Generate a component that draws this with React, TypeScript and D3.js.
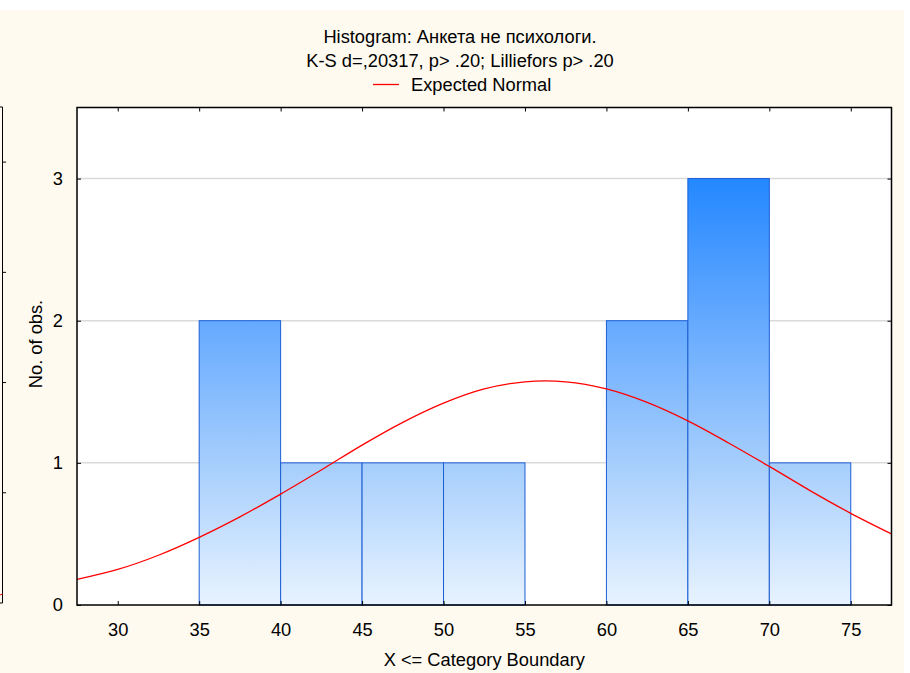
import { useEffect, useRef } from 'react';
import * as d3 from 'd3';

// histogram bins (lower boundary) and counts
const binStarts = [35, 40, 45, 50, 55, 60, 65, 70];
const binCounts = [2, 1, 1, 1, 0, 2, 3, 1];
const binWidth = 5;

const xTicks = [30, 35, 40, 45, 50, 55, 60, 65, 70, 75];
const yTicks = [0, 1, 2, 3];

// expected normal curve
const curveX = [27.5, 30, 32.5, 35, 37.5, 40, 42.5, 45, 47.5, 50, 52.5, 55, 57.5, 60, 62.5, 65, 67.5, 70, 72.5, 75, 77.5];
const curveY = [0.18, 0.25, 0.35, 0.476, 0.62, 0.78, 0.95, 1.125, 1.285, 1.42, 1.52, 1.57, 1.57, 1.52, 1.425, 1.295, 1.14, 0.975, 0.805, 0.645, 0.5];

// ticks of the neighbouring (cut off) chart on the left edge
const sideTicks = [0, 1, 2, 3, 4];

const titleLines = ['Histogram: Анкета не психологи.', 'K-S d=,20317, p> .20; Lilliefors p> .20'];
const legendLabel = 'Expected Normal';
const xLabel = 'X <= Category Boundary';
const yLabel = 'No. of obs.';

const W = 910;
const H = 673;
const font = "'Liberation Sans', Arial, sans-serif";
const fs = 18.3;

const App = () => {
  const svgRef = useRef<SVGSVGElement | null>(null);

  useEffect(() => {
    if (!svgRef.current) return;
    const svg = d3.select(svgRef.current);
    svg.selectAll('*').remove();

    const margin = { top: 107.5, right: 18.5, bottom: 68, left: 77 };
    const innerW = W - margin.left - margin.right;
    const innerH = H - margin.top - margin.bottom;

    const x = d3.scaleLinear().domain([27.5, 77.5]).range([0, innerW]);
    const y = d3.scaleLinear().domain([0, 3.5]).range([innerH, 0]);

    // background
    svg.append('rect').attr('width', W).attr('height', H).attr('fill', '#ffffff');
    svg.append('rect').attr('x', 0).attr('y', 10).attr('width', 904).attr('height', H - 10).attr('fill', '#fefaef');

    // bar gradient in plot space
    const defs = svg.append('defs');
    const grad = defs
      .append('linearGradient')
      .attr('id', 'barGrad')
      .attr('gradientUnits', 'userSpaceOnUse')
      .attr('x1', 0)
      .attr('x2', 0)
      .attr('y1', y(3))
      .attr('y2', y(0));
    grad.append('stop').attr('offset', '0%').attr('stop-color', '#2488ff');
    grad.append('stop').attr('offset', '33%').attr('stop-color', '#64a9ff');
    grad.append('stop').attr('offset', '67%').attr('stop-color', '#a6cefc');
    grad.append('stop').attr('offset', '100%').attr('stop-color', '#e8f3ff');

    // partial frame of the neighbour chart
    const ys = d3.scaleLinear().domain([0, 4.5]).range([603, 107]);
    const side = svg.append('g');
    side.append('line').attr('x1', 2.5).attr('x2', 2.5).attr('y1', ys(4.5)).attr('y2', ys(0)).attr('stroke', '#000');
    side.append('line').attr('x1', 0).attr('x2', 2.5).attr('y1', ys(4.5)).attr('y2', ys(4.5)).attr('stroke', '#000');
    side.append('line').attr('x1', 0).attr('x2', 2.5).attr('y1', ys(0)).attr('y2', ys(0)).attr('stroke', '#000');
    side
      .selectAll('line.t')
      .data(sideTicks.slice(1))
      .join('line')
      .attr('class', 't')
      .attr('x1', 2.5)
      .attr('x2', 6)
      .attr('y1', (d) => ys(d))
      .attr('y2', (d) => ys(d))
      .attr('stroke', '#000');
    side.append('line').attr('x1', 0).attr('x2', 2.5).attr('y1', 595).attr('y2', 594).attr('stroke', '#ff0000');

    const g = svg.append('g').attr('transform', `translate(${margin.left},${margin.top})`);

    g.append('rect').attr('width', innerW).attr('height', innerH).attr('fill', '#ffffff');

    // gridlines
    g.selectAll('line.grid')
      .data(yTicks.slice(1))
      .join('line')
      .attr('class', 'grid')
      .attr('x1', 0)
      .attr('x2', innerW)
      .attr('y1', (d) => y(d))
      .attr('y2', (d) => y(d))
      .attr('stroke', '#dadada')
      .attr('stroke-width', 1.5);

    // bars
    g.selectAll('rect.bar')
      .data(binStarts.map((s, i) => ({ s, c: binCounts[i] })).filter((d) => d.c > 0))
      .join('rect')
      .attr('class', 'bar')
      .attr('x', (d) => x(d.s))
      .attr('y', (d) => y(d.c))
      .attr('width', (d) => x(d.s + binWidth) - x(d.s))
      .attr('height', (d) => y(0) - y(d.c))
      .attr('fill', 'url(#barGrad)')
      .attr('stroke', '#1c5ed4')
      .attr('stroke-width', 1);

    // expected normal
    const line = d3
      .line<number>()
      .x((_, i) => x(curveX[i]))
      .y((d) => y(d))
      .curve(d3.curveCatmullRom);
    g.append('path')
      .datum(curveY)
      .attr('fill', 'none')
      .attr('stroke', '#ff0000')
      .attr('stroke-width', 1.3)
      .attr('d', line);

    // frame
    g.append('rect')
      .attr('width', innerW)
      .attr('height', innerH)
      .attr('fill', 'none')
      .attr('stroke', '#000')
      .attr('stroke-width', 1.5);

    // x axis ticks (inside, bottom and top)
    const xAxis = g
      .append('g')
      .attr('transform', `translate(0,${innerH})`)
      .call(d3.axisBottom(x).tickValues(xTicks).tickSize(-4).tickPadding(18));
    xAxis.select('.domain').remove();
    xAxis.selectAll('text').attr('font-size', fs).attr('font-family', font).attr('fill', '#000');
    const xTop = g.append('g').call(d3.axisTop(x).tickValues(xTicks).tickSize(-4).tickFormat(() => ''));
    xTop.select('.domain').remove();

    // y axis ticks (inside, left and right)
    const yAxis = g
      .append('g')
      .call(d3.axisLeft(y).tickValues(yTicks).tickFormat(d3.format('d')).tickSize(-4).tickPadding(14));
    yAxis.select('.domain').remove();
    yAxis.selectAll('text').attr('font-size', fs).attr('font-family', font).attr('fill', '#000');
    const yRight = g
      .append('g')
      .attr('transform', `translate(${innerW},0)`)
      .call(d3.axisRight(y).tickValues(yTicks).tickSize(-4).tickFormat(() => ''));
    yRight.select('.domain').remove();

    // titles
    svg
      .selectAll('text.title')
      .data(titleLines)
      .join('text')
      .attr('class', 'title')
      .attr('x', 460)
      .attr('y', (_, i) => 43 + i * 23.5)
      .attr('text-anchor', 'middle')
      .attr('font-family', font)
      .attr('font-size', fs)
      .attr('fill', '#000')
      .text((d) => d);

    // legend
    svg.append('line').attr('x1', 373).attr('x2', 399).attr('y1', 84.5).attr('y2', 84.5).attr('stroke', '#ff0000').attr('stroke-width', 1.3);
    svg
      .append('text')
      .attr('x', 411)
      .attr('y', 90.5)
      .attr('font-family', font)
      .attr('font-size', fs)
      .attr('fill', '#000')
      .text(legendLabel);

    // axis labels
    svg
      .append('text')
      .attr('x', margin.left + innerW / 2)
      .attr('y', 666)
      .attr('text-anchor', 'middle')
      .attr('font-family', font)
      .attr('font-size', fs)
      .attr('fill', '#000')
      .text(xLabel);
    svg
      .append('text')
      .attr('transform', `translate(42,344) rotate(-90)`)
      .attr('text-anchor', 'middle')
      .attr('font-family', font)
      .attr('font-size', fs)
      .attr('fill', '#000')
      .text(yLabel);
  }, []);

  return (
    <div style={{ position: 'absolute', left: 0, top: 0 }}>
      <svg ref={svgRef} width={W} height={H} style={{ display: 'block' }}></svg>
    </div>
  );
};

export default App;
